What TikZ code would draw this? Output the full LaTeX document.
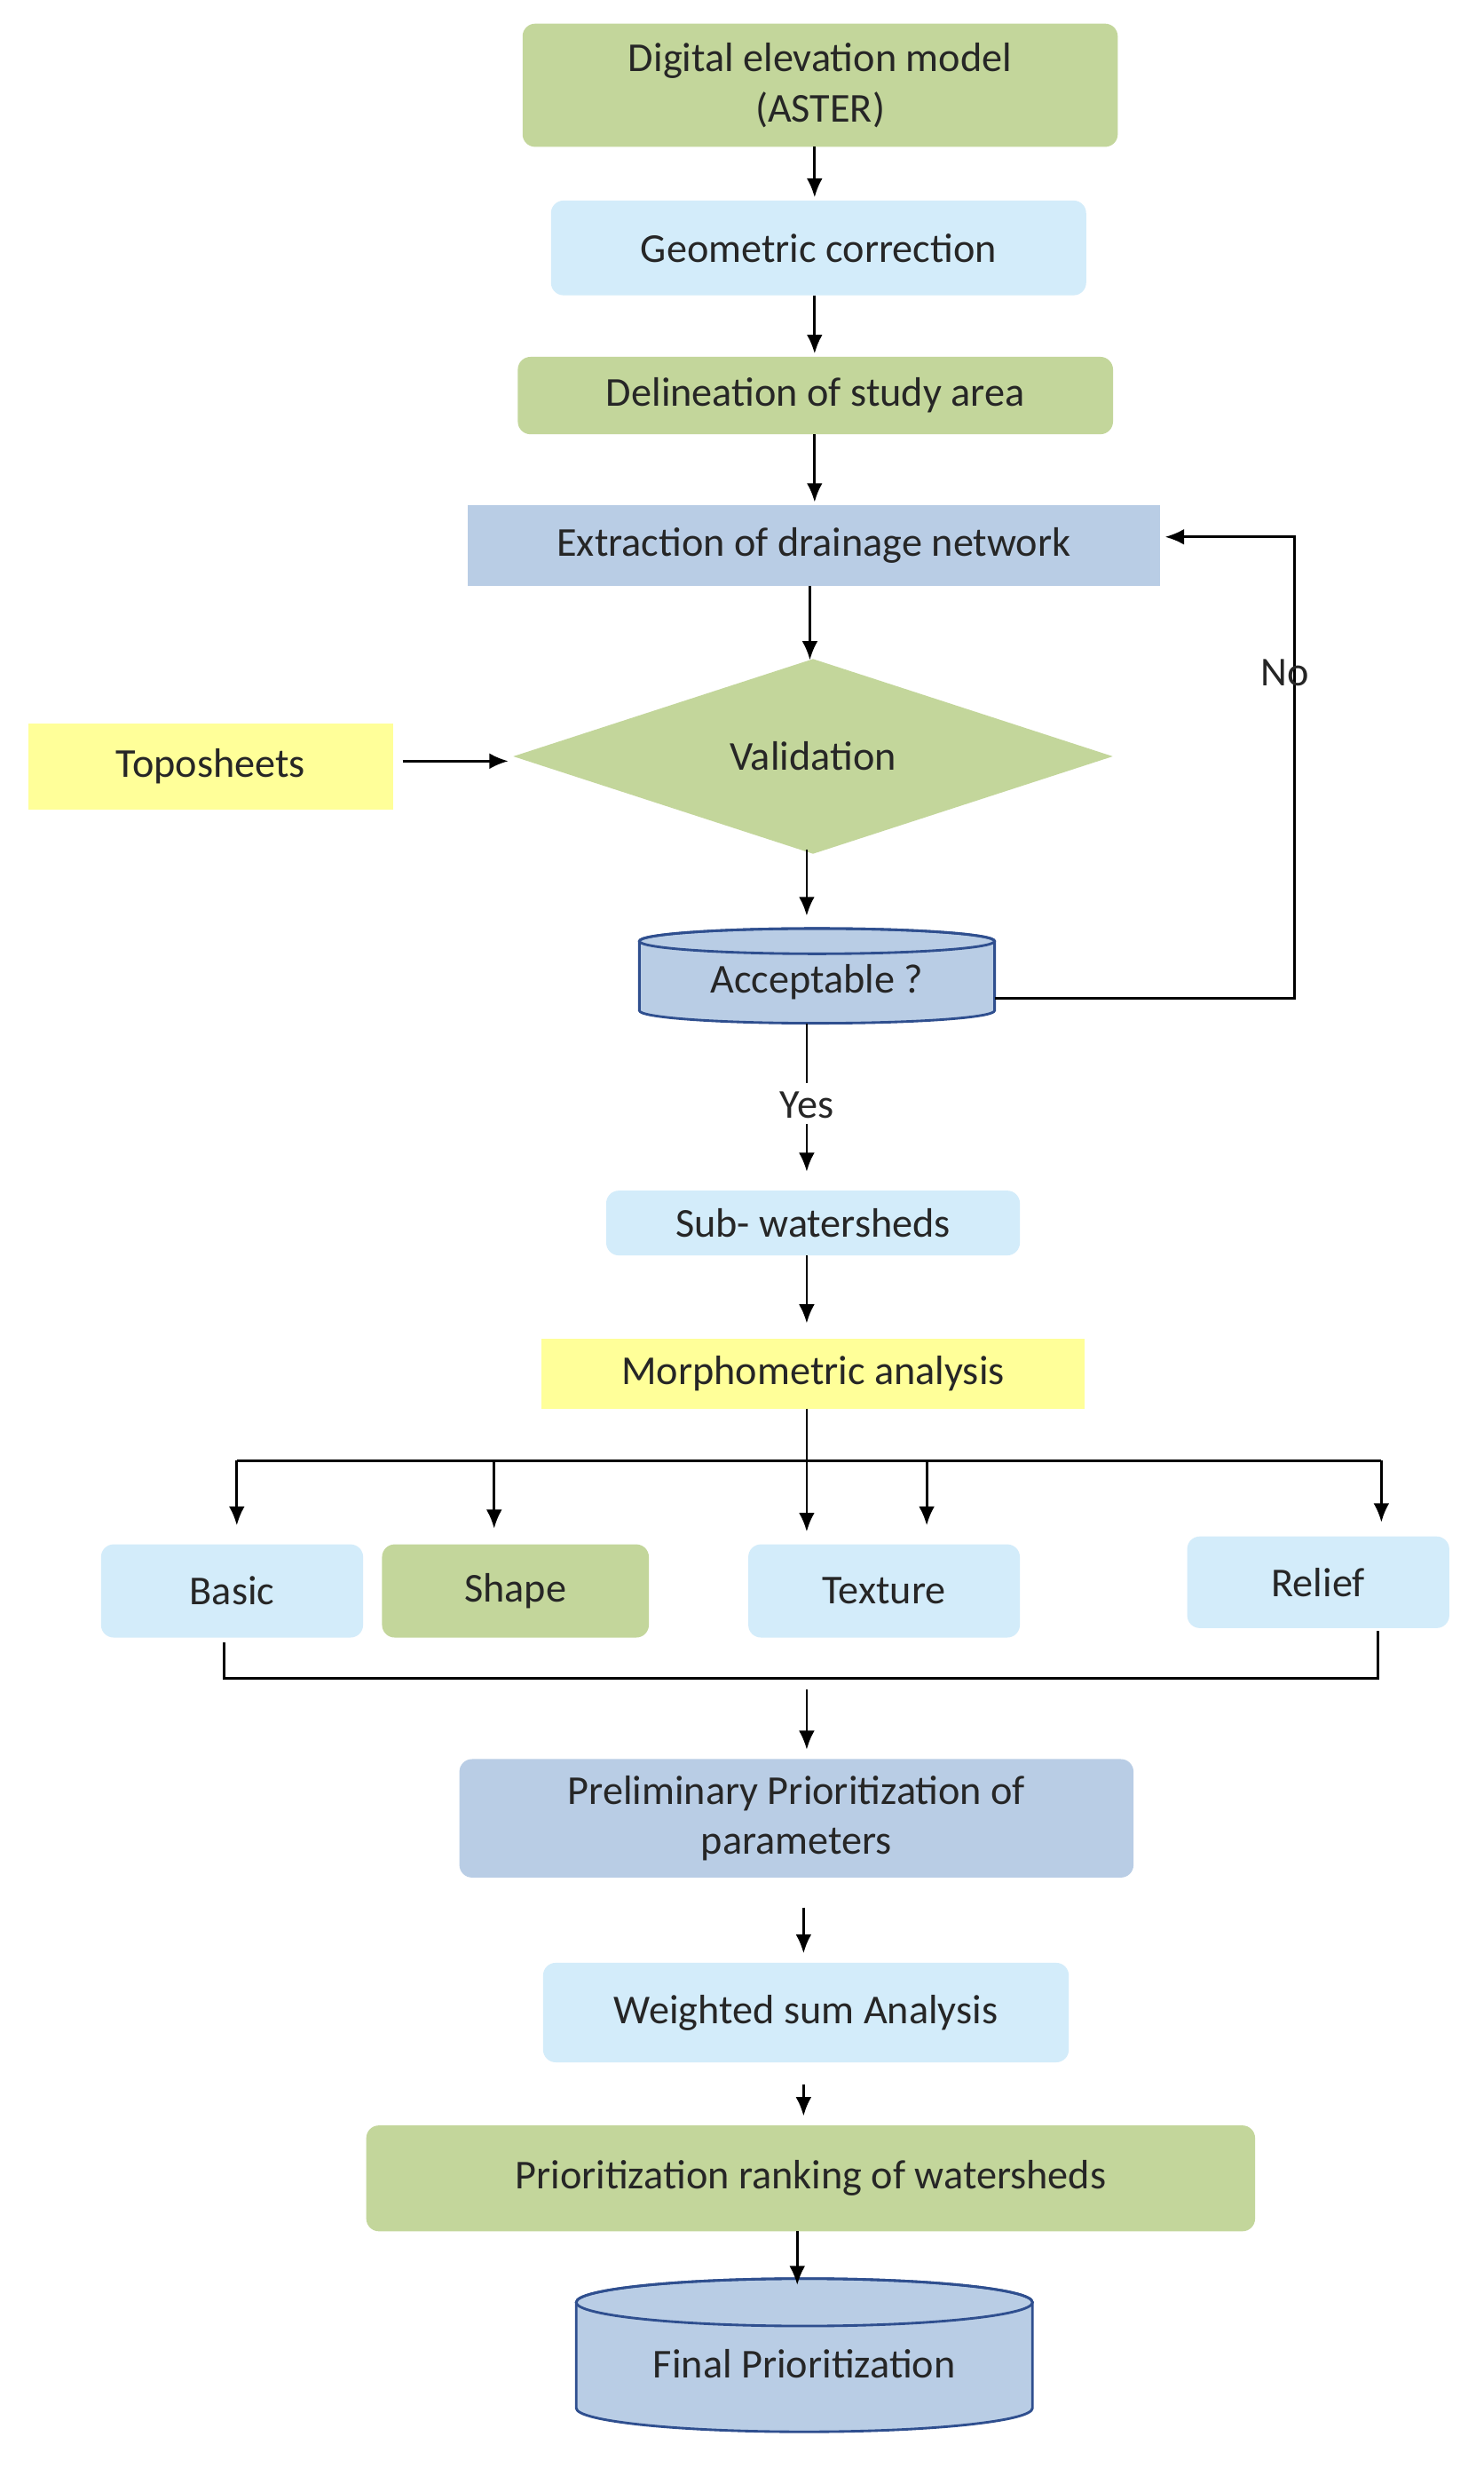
\documentclass[tikz,border=0pt]{standalone}
\usepackage{fontspec}
\setmainfont{Carlito}
\usetikzlibrary{shapes.geometric,arrows.meta}
\definecolor{gr}{HTML}{C3D69B}
\definecolor{lb}{HTML}{D3ECFA}
\definecolor{bl}{HTML}{B9CDE5}
\definecolor{ye}{HTML}{FFFF99}
\definecolor{cyl}{HTML}{2F4F8F}
\begin{document}
\begin{tikzpicture}[x=0.5pt,y=-0.5pt,
  font=\fontsize{13}{16}\selectfont, text=black!85,
  box/.style={rectangle,rounded corners=4pt,inner sep=0pt,align=center},
  sq/.style={rectangle,inner sep=0pt,align=center},
  ar/.style={-{Latex[length=6pt,width=5pt]},line width=0.8pt},
  ln/.style={line width=0.8pt}]
\fill[white] (0,0) rectangle (940,1568);
\newcommand\cylbody[5]{% cx cy w h ry (display units)
  \pgfmathsetmacro\L{#1-#3/2}\pgfmathsetmacro\R{#1+#3/2}
  \pgfmathsetmacro\T{#2-#4/2+#5}\pgfmathsetmacro\B{#2+#4/2-#5}
  \filldraw[fill=bl,draw=cyl,line width=0.8pt] (\L,\T) -- (\L,\B) arc (180:360:{#3*0.25pt} and {#5*0.5pt}) -- (\R,\T) arc (0:180:{#3*0.25pt} and {#5*0.5pt}) -- cycle;
  \draw[cyl,line width=0.8pt] (#1,\T) ellipse ({#3*0.25pt} and {#5*0.5pt});}
\node[box,fill=gr,minimum width=188.5pt,minimum height=39pt] (dem) at (519.5,54) {Digital elevation model\\(ASTER)};
\node[box,fill=lb,minimum width=169.5pt,minimum height=30pt] (geo) at (518.5,157) {Geometric correction};
\node[box,fill=gr,minimum width=188.5pt,minimum height=24.5pt] (del) at (516.5,250.5) {Delineation of study area};
\node[sq,fill=bl,minimum width=219.5pt,minimum height=25.5pt] (ext) at (515.5,345.5) {Extraction of drainage network};
\node[diamond,fill=gr,inner sep=0pt,minimum width=190pt,minimum height=59pt] (val) at (515,479) {Validation};
\node[sq,fill=ye,minimum width=115.5pt,minimum height=27.5pt] (topo) at (133.5,485.5) {Toposheets};
\cylbody{517.5}{618}{225}{60}{8}
\node[sq,minimum width=112.5pt,minimum height=30pt] (acc) at (517.5,622) {Acceptable ?};
\node[box,fill=lb,minimum width=131pt,minimum height=20.5pt] (sub) at (515,774.5) {Sub- watersheds};
\node[sq,fill=ye,minimum width=172pt,minimum height=22pt] (mor) at (515,870) {Morphometric analysis};
\node[box,fill=lb,minimum width=83pt,minimum height=29.5pt] (bas) at (147,1007.5) {Basic};
\node[box,fill=gr,minimum width=84.5pt,minimum height=29.5pt] (sha) at (326.5,1007.5) {Shape};
\node[box,fill=lb,minimum width=86pt,minimum height=29.5pt] (tex) at (560,1007.5) {Texture};
\node[box,fill=lb,minimum width=83pt,minimum height=29pt] (rel) at (835,1002) {Relief};
\node[box,fill=bl,minimum width=213.5pt,minimum height=37.5pt] (pre) at (504.5,1151.5) {Preliminary Prioritization of\\parameters};
\node[box,fill=lb,minimum width=166.5pt,minimum height=31.5pt] (wsa) at (510.5,1274.5) {Weighted sum Analysis};
\node[box,fill=gr,minimum width=281.5pt,minimum height=33.5pt] (rnk) at (513.5,1379.5) {Prioritization ranking of watersheds};
\cylbody{509.5}{1491.5}{289}{97}{15}
\node[sq,minimum width=144.5pt,minimum height=40pt] (fin) at (509.5,1497) {Final Prioritization};
% arrows
\draw[ar] (516,93) -- (516,125);
\draw[ar] (516,187) -- (516,224);
\draw[ar] (516,275) -- (516,318);
\draw[ar] (513,371) -- (513,418);
\draw[ar] (255,482) -- (322,482);
\draw[ar] (511,538) -- (511,580);
\coordinate (nr) at (820,632);
\coordinate (nt) at (820,340);
\draw[ar] (630,632) -- (nr) -- (nt) -- (738,340);
\node (no) at (814,426) {No};
\coordinate (ya) at (511,742);
\draw[ln] (511,648) -- (511,686);
\node (yes) at (511,700) {Yes};
\draw[ar] (511,712) -- (ya);
\draw[ar] (511,795) -- (511,838);
\coordinate (bl) at (150,925); \coordinate (br) at (875,925);
\draw[ln] (511,892) -- (511,925);
\draw[ln] (bl) -- (br);
\foreach \x/\e in {150/966,313/968,511/970,587/966,875/964}
  \draw[ar] (\x,925) -- (\x,\e);
\draw[ln] (142,1040) -- (142,1063) -- (873,1063) -- (873,1033);
\draw[ar] (511,1070) -- (511,1108);
\draw[ar] (509,1208) -- (509,1237);
\draw[ar] (509,1320) -- (509,1340);
\draw[ar] (505,1413) -- (505,1447);
\end{tikzpicture}
\end{document}
